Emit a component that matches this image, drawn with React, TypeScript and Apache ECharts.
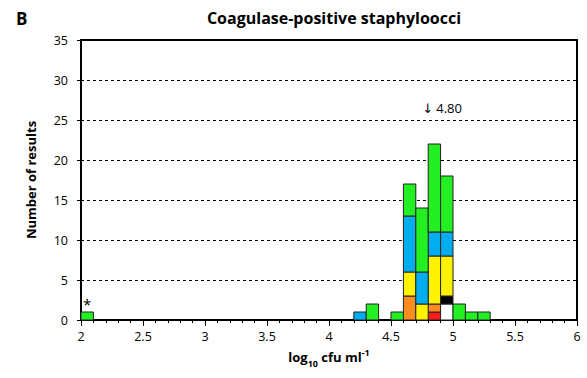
import React, { useEffect, useRef } from "react";
import * as echarts from "echarts";

// Histogram bins (lower edge, log10 cfu/ml), width 0.1
const binStarts = [2.0, 4.2, 4.3, 4.5, 4.6, 4.7, 4.8, 4.9, 5.0, 5.1, 5.2];
const binWidth = 0.1;

// Number of results per bin for each group, stacked bottom to top
const redCounts = [0, 0, 0, 0, 0, 0, 1, 0, 0, 0, 0];
const orangeCounts = [0, 0, 0, 0, 3, 0, 1, 0, 0, 0, 0];
const whiteCounts = [0, 0, 0, 0, 0, 0, 0, 2, 0, 0, 0];
const blackCounts = [0, 0, 0, 0, 0, 0, 0, 1, 0, 0, 0];
const yellowCounts = [0, 0, 0, 0, 3, 2, 6, 5, 0, 0, 0];
const blueCounts = [0, 1, 0, 0, 7, 4, 3, 3, 0, 0, 0];
const greenCounts = [1, 0, 2, 1, 4, 8, 11, 7, 2, 1, 1];

const groups = [
  { name: "red", counts: redCounts, color: "#ff1a1a" },
  { name: "orange", counts: orangeCounts, color: "#ff8c1f" },
  { name: "white", counts: whiteCounts, color: "#ffffff" },
  { name: "black", counts: blackCounts, color: "#000000" },
  { name: "yellow", counts: yellowCounts, color: "#fff200" },
  { name: "blue", counts: blueCounts, color: "#00aeef" },
  { name: "green", counts: greenCounts, color: "#22f022" },
];

// Assigned value marker and the flagged result
const assignedValue = 4.8;
const assignedText = "4.80";
const assignedLabelHeight = 26.5;
const flaggedResult = [2.05, 1];

const xTicks = { min: 2, max: 6, interval: 0.5 };
const yTicks = { min: 0, max: 35, interval: 5 };

const FONT = "Open Sans";

export default function App() {
  const ref = useRef<HTMLDivElement>(null);

  useEffect(() => {
    if (!ref.current) return;
    const chart = echarts.init(ref.current, undefined, { renderer: "svg" });

    const base = binStarts.map(() => 0);
    const series: any[] = groups.map((g) => {
      const data: number[][] = [];
      g.counts.forEach((c, i) => {
        if (c > 0) {
          data.push([binStarts[i], base[i], base[i] + c]);
          base[i] += c;
        }
      });
      return {
        type: "custom",
        name: g.name,
        data,
        encode: { x: 0, y: [1, 2] },
        renderItem: (_p: any, api: any) => {
          const x0 = api.value(0);
          const lo = api.coord([x0, api.value(1)]);
          const hi = api.coord([x0 + binWidth, api.value(2)]);
          return {
            type: "rect",
            shape: {
              x: lo[0],
              y: hi[1],
              width: hi[0] - lo[0],
              height: lo[1] - hi[1],
            },
            style: { fill: g.color, stroke: "#222", lineWidth: 1 },
          };
        },
      };
    });

    const textSeries = (point: number[], text: string, label: any) => ({
      type: "scatter",
      data: [point],
      symbolSize: 0,
      silent: true,
      itemStyle: { opacity: 1, color: "#000" },
      emphasis: { disabled: true },
      label: {
        show: true,
        formatter: text,
        fontFamily: FONT,
        color: "#000",
        opacity: 1,
        ...label,
      },
    });

    series.push(
      textSeries(flaggedResult, "*", { position: "top", distance: 1, fontSize: 15 })
    );
    series.push(
      textSeries([assignedValue, assignedLabelHeight], `{arr|↓} {v|${assignedText}}`, {
        position: "inside",
        align: "left",
        offset: [-6, 0],
        rich: {
          arr: { fontFamily: "DejaVu Sans", fontSize: 13, color: "#000" },
          v: { fontFamily: FONT, fontSize: 13, color: "#000" },
        },
      })
    );

    chart.setOption({
      animation: false,
      backgroundColor: "#fff",
      title: {
        text: "Coagulase-positive staphyloocci",
        left: 329,
        top: 5,
        textAlign: "center",
        textStyle: { fontFamily: FONT, fontWeight: "bold", fontSize: 16, color: "#000" },
      },
      graphic: [
        {
          type: "text",
          left: 16,
          top: 10,
          style: { text: "B", font: `bold 17px '${FONT}'`, fill: "#000" },
        },
      ],
      grid: {
        left: 81,
        right: 10,
        top: 40,
        bottom: 58,
        show: true,
        borderColor: "#000",
        borderWidth: 2,
      },
      xAxis: {
        type: "value",
        min: xTicks.min,
        max: xTicks.max,
        interval: xTicks.interval,
        name: "{a|log}{s|10}{a| cfu ml}{p|-1}",
        nameLocation: "middle",
        nameGap: 24,
        nameTextStyle: {
          rich: {
            a: { fontFamily: FONT, fontWeight: "bold", fontSize: 13, color: "#000" },
            s: { fontFamily: FONT, fontWeight: "bold", fontSize: 9, color: "#000", padding: [12, 0, 0, 0] },
            p: { fontFamily: FONT, fontWeight: "bold", fontSize: 9, color: "#000", padding: [0, 0, 10, 0] },
          },
        },
        axisLine: { show: true, lineStyle: { color: "#000", width: 2 } },
        axisTick: { show: true, length: 6, lineStyle: { color: "#000", width: 1 } },
        minorTick: { show: true, splitNumber: 5, length: 3, lineStyle: { color: "#000" } },
        splitLine: { show: false },
        axisLabel: { fontFamily: FONT, fontSize: 12.5, color: "#000", margin: 10 },
      },
      yAxis: {
        type: "value",
        min: yTicks.min,
        max: yTicks.max,
        interval: yTicks.interval,
        name: "Number of results",
        nameLocation: "middle",
        nameGap: 44,
        nameTextStyle: { fontFamily: FONT, fontWeight: "bold", fontSize: 13, color: "#000" },
        axisLine: { show: true, lineStyle: { color: "#000", width: 2 } },
        axisTick: { show: true, length: 4, lineStyle: { color: "#000" } },
        splitLine: { show: true, lineStyle: { color: "#000", width: 1, type: [3, 3] } },
        axisLabel: { fontFamily: FONT, fontSize: 12.5, color: "#000", margin: 13 },
      },
      series,
    });

    return () => chart.dispose();
  }, []);

  return (
    <div
      ref={ref}
      style={{ position: "fixed", left: 0, top: 0, width: 587, height: 378 }}
    />
  );
}
